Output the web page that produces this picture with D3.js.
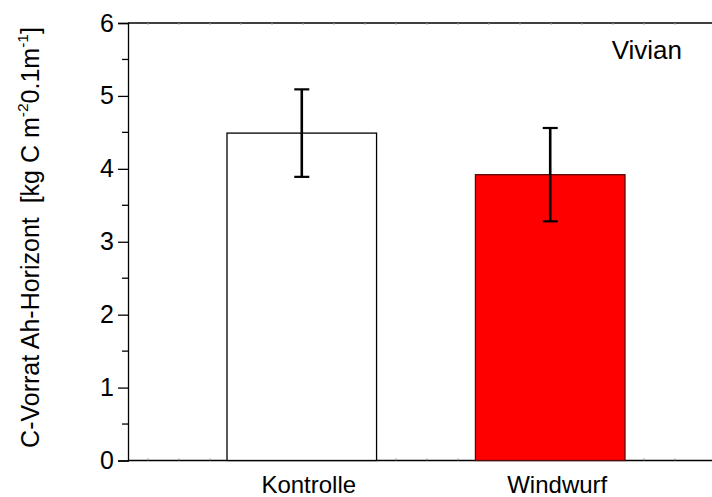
<!DOCTYPE html>
<html>
<head>
<meta charset="utf-8">
<script src="https://cdn.jsdelivr.net/npm/d3@7"></script>
<style>
  html, body { margin: 0; padding: 0; background: #fff; }
  svg { display: block; font-family: "Liberation Sans", Arial, sans-serif; }
</style>
</head>
<body>
<svg id="chart" width="712" height="497"></svg>
<script>
// ---- data ----
const categories = ["Kontrolle", "Windwurf"];
const means = [4.49, 3.92];
const errors = [0.60, 0.64];
const barColors = ["#ffffff", "#ff0000"];
const barStrokes = ["#000000", "#5a0a0a"];
const yTicks = [0, 1, 2, 3, 4, 5, 6];
const yMinorTicks = [0.5, 1.5, 2.5, 3.5, 4.5, 5.5];
const panelLabel = "Vivian";

// ---- layout ----
const mLeft = 128, mRight = 712, mTop = 23, mBottom = 460.5;

const svg = d3.select("#chart");

const y = d3.scaleLinear().domain([0, 6]).range([mBottom, mTop]);
const x = d3.scaleBand().domain(categories).range([227, 625]).paddingInner(0.398).paddingOuter(0);

// frame lines (top & bottom extend to the right edge)
svg.append("line").attr("x1", mLeft).attr("x2", mRight).attr("y1", y(6)).attr("y2", y(6))
  .attr("stroke", "#000").attr("stroke-width", 1.3);
svg.append("line").attr("x1", mLeft).attr("x2", mRight).attr("y1", y(0)).attr("y2", y(0))
  .attr("stroke", "#000").attr("stroke-width", 1.3);

// faint inner ticks along top/bottom
const tickScale = d3.scaleLinear().domain([0, 17]).range([148, 675]);
const faint = d3.range(0, 18);
svg.append("g").selectAll("line").data(faint).join("line")
  .attr("x1", d => tickScale(d)).attr("x2", d => tickScale(d))
  .attr("y1", y(0)).attr("y2", y(0) - 2)
  .attr("stroke", "#888").attr("stroke-width", 1);
svg.append("g").selectAll("line").data(faint).join("line")
  .attr("x1", d => tickScale(d)).attr("x2", d => tickScale(d))
  .attr("y1", y(6)).attr("y2", y(6) + 2)
  .attr("stroke", "#aaa").attr("stroke-width", 1);

// bars
svg.append("g").selectAll("rect").data(categories).join("rect")
  .attr("x", d => x(d))
  .attr("width", x.bandwidth())
  .attr("y", (d, i) => y(means[i]))
  .attr("height", (d, i) => y(0) - y(means[i]))
  .attr("fill", (d, i) => barColors[i])
  .attr("stroke", (d, i) => barStrokes[i])
  .attr("stroke-width", 1.3);

// y axis
const yAxis = d3.axisLeft(y).tickValues(yTicks).tickSize(10).tickPadding(4).tickFormat(d3.format("d"));
const gy = svg.append("g").attr("transform", `translate(${mLeft},0)`).call(yAxis);
gy.select(".domain").attr("stroke-width", 1.3);
gy.selectAll(".tick line").attr("stroke-width", 1.3);
gy.selectAll(".tick text")
  .attr("font-size", 25)
  .attr("font-family", "Liberation Sans, Arial, sans-serif")
  .attr("fill", "#000");
svg.append("g").selectAll("line").data(yMinorTicks).join("line")
  .attr("x1", mLeft - 6).attr("x2", mLeft)
  .attr("y1", d => y(d)).attr("y2", d => y(d))
  .attr("stroke", "#000").attr("stroke-width", 1.3);

// error bars
const capHalf = 7.5;
const eb = svg.append("g").selectAll("g").data(categories).join("g");
eb.append("line")
  .attr("x1", d => x(d) + x.bandwidth() / 2).attr("x2", d => x(d) + x.bandwidth() / 2)
  .attr("y1", (d, i) => y(means[i] + errors[i])).attr("y2", (d, i) => y(means[i] - errors[i]))
  .attr("stroke", "#000").attr("stroke-width", 2.6);
eb.append("line")
  .attr("x1", d => x(d) + x.bandwidth() / 2 - capHalf).attr("x2", d => x(d) + x.bandwidth() / 2 + capHalf)
  .attr("y1", (d, i) => y(means[i] + errors[i])).attr("y2", (d, i) => y(means[i] + errors[i]))
  .attr("stroke", "#000").attr("stroke-width", 2.2);
eb.append("line")
  .attr("x1", d => x(d) + x.bandwidth() / 2 - capHalf).attr("x2", d => x(d) + x.bandwidth() / 2 + capHalf)
  .attr("y1", (d, i) => y(means[i] - errors[i])).attr("y2", (d, i) => y(means[i] - errors[i]))
  .attr("stroke", "#000").attr("stroke-width", 2.2);

// category labels
svg.append("g").selectAll("text").data(categories).join("text")
  .attr("x", d => x(d) + x.bandwidth() / 2 + 7)
  .attr("y", 493)
  .attr("text-anchor", "middle")
  .attr("font-size", 24)
  .attr("fill", "#000")
  .text(d => d);

// panel label
svg.append("text")
  .attr("x", 682).attr("y", 59)
  .attr("text-anchor", "end")
  .attr("font-size", 26)
  .attr("fill", "#000")
  .text(panelLabel);

// y title
const yt = svg.append("text")
  .attr("transform", `translate(38.5,237.5) rotate(-90)`)
  .attr("text-anchor", "middle")
  .attr("font-size", 25)
  .attr("fill", "#000");
yt.append("tspan").text("C-Vorrat Ah-Horizont\u00a0\u00a0[kg C m");
yt.append("tspan").attr("font-size", 15.5).attr("dy", -11).text("-2");
yt.append("tspan").attr("dy", 11).text("0.1m");
yt.append("tspan").attr("font-size", 15.5).attr("dy", -11).text("-1");
yt.append("tspan").attr("dy", 11).text("]");
</script>
</body>
</html>
